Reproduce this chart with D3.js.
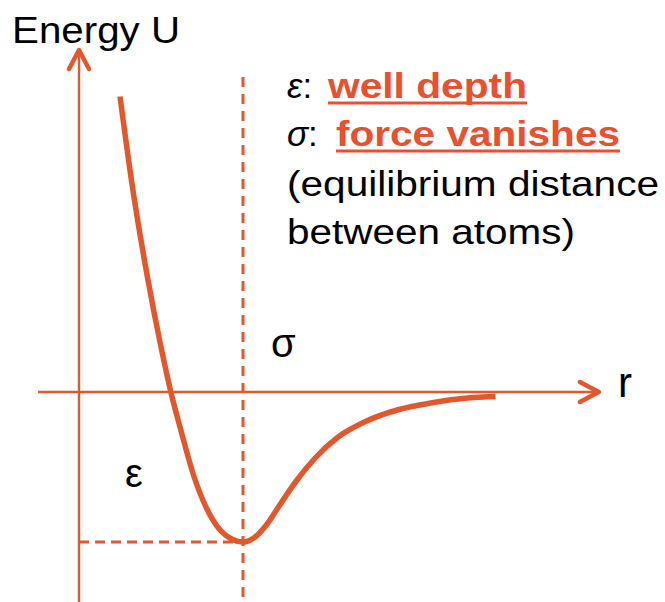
<!DOCTYPE html>
<html>
<head>
<meta charset="utf-8">
<script src="https://cdn.jsdelivr.net/npm/d3@7"></script>
<style>
  body { margin: 0; background: #fff; }
  text { font-family: "Liberation Sans", Arial, sans-serif; }
</style>
</head>
<body>
<svg id="chart" width="665" height="602"></svg>
<script>
// potential curve (r in units of sigma, U in units of epsilon)
var rValues = [0.25, 0.32, 0.42, 0.50, 0.56, 0.62, 0.70, 0.78, 0.86, 0.93, 1.0, 1.07, 1.14, 1.22, 1.32, 1.44, 1.58, 1.74, 1.94, 2.16, 2.37, 2.54];
var uValues = [1.97, 1.41, 0.75, 0.30, 0.0, -0.25, -0.56, -0.78, -0.92, -0.98, -1.0, -0.97, -0.89, -0.76, -0.60, -0.44, -0.30, -0.20, -0.12, -0.07, -0.04, -0.03];

// axis extents
var rAxis = [-0.25, 3.17];
var uAxis = [-1.4, 2.28];
var sigma = 1.0, wellDepth = -1.0;

var orange = "#e2582c", textOrange = "#e8502f";

var width = 665, height = 602;
var svg = d3.select("#chart");

var x = d3.scaleLinear().domain([0, 1]).range([79, 243]);
var y = d3.scaleLinear().domain([0, -1]).range([392, 542]);

/* ===== axes ===== */
svg.append("line")
    .attr("x1", x(rAxis[0])).attr("x2", x(rAxis[1]))
    .attr("y1", y(0)).attr("y2", y(0))
    .attr("stroke", orange).attr("stroke-width", 2.4);

svg.append("line")
    .attr("x1", x(0)).attr("x2", x(0))
    .attr("y1", y(uAxis[1])).attr("y2", y(uAxis[0]))
    .attr("stroke", orange).attr("stroke-width", 2.4);

// arrow heads
var tipX = [x(rAxis[1]), y(0)], tipY = [x(0), y(uAxis[1])];
svg.append("path")
    .attr("d", "M" + (tipX[0] - 19) + "," + (tipX[1] - 10) + "L" + tipX[0] + "," + tipX[1] + "L" + (tipX[0] - 19) + "," + (tipX[1] + 10))
    .attr("fill", "none").attr("stroke", orange).attr("stroke-width", 4.5)
    .attr("stroke-linecap", "round").attr("stroke-linejoin", "round");
svg.append("path")
    .attr("d", "M" + (tipY[0] - 10) + "," + (tipY[1] + 19) + "L" + tipY[0] + "," + tipY[1] + "L" + (tipY[0] + 10) + "," + (tipY[1] + 19))
    .attr("fill", "none").attr("stroke", orange).attr("stroke-width", 4.5)
    .attr("stroke-linecap", "round").attr("stroke-linejoin", "round");

/* ===== dashed guides ===== */
svg.append("line")
    .attr("x1", x(sigma)).attr("x2", x(sigma))
    .attr("y1", 77).attr("y2", height)
    .attr("stroke", orange).attr("stroke-width", 3)
    .attr("stroke-dasharray", "10,7");

svg.append("line")
    .attr("x1", x(0)).attr("x2", x(sigma))
    .attr("y1", y(wellDepth)).attr("y2", y(wellDepth))
    .attr("stroke", orange).attr("stroke-width", 3)
    .attr("stroke-dasharray", "10,6");

/* ===== curve ===== */
var pts = rValues.map(function(r, i) { return [r, uValues[i]]; });
var line = d3.line()
    .x(function(d) { return x(d[0]); })
    .y(function(d) { return y(d[1]); })
    .curve(d3.curveMonotoneX);

svg.append("path")
    .datum(pts)
    .attr("d", line)
    .attr("fill", "none")
    .attr("stroke", orange)
    .attr("stroke-width", 5.5)
    .attr("stroke-linecap", "butt");

/* ===== labels ===== */
svg.append("text").attr("x", 12).attr("y", 43)
    .attr("font-size", 37).attr("fill", "#000")
    .attr("textLength", 168).attr("lengthAdjust", "spacingAndGlyphs")
    .text("Energy U");

svg.append("text").attr("x", 618).attr("y", 397)
    .attr("font-size", 42).attr("fill", "#000").text("r");

svg.append("text").attr("x", 271).attr("y", 357)
    .attr("font-size", 40).attr("fill", "#000").text("σ");

svg.append("text").attr("x", 125).attr("y", 487)
    .attr("font-size", 40).attr("fill", "#000").text("ε");

// legend block
var legend = [
    {sym: "ε", key: "well depth", y: 98, x: 328, w: 199},
    {sym: "σ", key: "force vanishes", y: 146, x: 336, w: 284}
];
legend.forEach(function(d) {
    var t = svg.append("text").attr("x", 287).attr("y", d.y)
        .attr("font-size", 35).attr("fill", "#000");
    t.append("tspan").attr("font-style", "italic").text(d.sym);
    t.append("tspan").text(":");

    svg.append("text").attr("x", d.x).attr("y", d.y)
        .attr("font-size", 35).attr("font-weight", "bold").attr("fill", textOrange)
        .attr("textLength", d.w).attr("lengthAdjust", "spacingAndGlyphs")
        .text(d.key);
    svg.append("line")
        .attr("x1", d.x).attr("x2", d.x + d.w)
        .attr("y1", d.y + 5).attr("y2", d.y + 5)
        .attr("stroke", textOrange).attr("stroke-width", 2.8);
});

var notes = [
    {txt: "(equilibrium distance", y: 196, w: 372},
    {txt: "between atoms)", y: 244, w: 288}
];
notes.forEach(function(d) {
    svg.append("text").attr("x", 287).attr("y", d.y)
        .attr("font-size", 35).attr("fill", "#000")
        .attr("textLength", d.w).attr("lengthAdjust", "spacingAndGlyphs")
        .text(d.txt);
});
</script>
</body>
</html>
